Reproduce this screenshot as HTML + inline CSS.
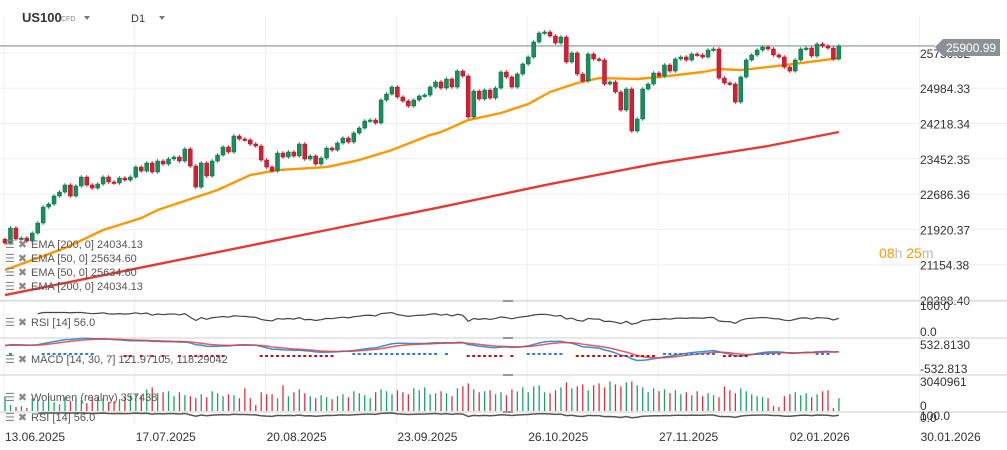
<!DOCTYPE html>
<html><head><meta charset="utf-8"><style>
body{margin:0;background:#fff;overflow:hidden}
svg{display:block;font-family:"Liberation Sans",sans-serif}
</style></head><body>
<svg id="c" width="1007" height="450" viewBox="0 0 1007 450">
<rect width="1007" height="450" fill="#fff"/>
<g id="grid"></g>
<g id="marks"></g>
<g id="ui">
<text x="22" y="22" font-size="13" font-weight="bold" fill="#333">US100</text>
<text x="61" y="21" font-size="7" fill="#888">CFD</text>
<path d="M84 16 l6 0 l-3 4 z" fill="#777"/>
<text x="131" y="22" font-size="11" fill="#333">D1</text>
<path d="M159 16 l6 0 l-3 4 z" fill="#777"/>
</g>
</svg>
<script>
const closes=[21625,21950,21712,21733,21668,21842,22059,22406,22471,22645,22732,22884,22645,22862,23057,22884,22818,22905,23057,22949,22927,23035,22992,23057,23274,23187,23361,23166,23404,23339,23448,23491,23404,23665,23296,22840,23361,23079,23404,23534,23708,23600,23947,23882,23860,23773,23730,23426,23274,23187,23578,23491,23600,23513,23773,23448,23513,23339,23469,23686,23643,23795,23903,23817,24012,24120,24272,24294,24229,24728,24858,25010,24793,24706,24598,24728,24815,24836,25010,25119,24988,25184,25010,25357,25249,24359,24923,24750,24945,24771,24988,25336,25227,25010,25292,25509,25661,25987,26182,26204,26117,25965,26095,25553,25748,25292,25140,25726,25618,25596,25075,25119,24902,24511,24967,24055,24316,24967,25075,25314,25249,25488,25357,25618,25661,25596,25726,25705,25661,25813,25835,25205,25097,25075,24684,25227,25596,25705,25813,25878,25835,25705,25661,25444,25357,25596,25835,25856,25683,25943,25900,25856,25618,25900];
const ema50Idx=[0,11,18,25,28,39,45,50,59,65,71,78,80,85,91,96,100,105,109,116,120,128,131,135,140,146,153];
const ema50Val=[21039,21516,21907,22167,22341,22775,23100,23209,23274,23426,23643,23968,24033,24294,24446,24641,24902,25097,25205,25184,25227,25336,25401,25379,25444,25531,25634.6];
const ema200Idx=[0,20,40,60,80,100,120,140,153];
const ema200Val=[20496,20974,21451,21929,22406,22905,23361,23730,24034];
const volumes=[1500,600,400,500,300,1300,1100,1000,1500,900,700,1400,1000,1300,1100,800,1300,1400,1300,900,1000,1200,1400,1600,1700,1600,2200,2400,1800,1900,2000,1500,1900,1600,1500,1300,1700,1400,2000,1800,1500,1700,1600,1300,2300,1300,600,1900,1700,1700,1300,2600,1500,1900,2200,1800,1500,1300,1600,1400,1200,1500,1700,1400,2000,1800,1600,1300,1900,2200,2000,1700,2100,1900,1700,2300,2100,2400,1700,1800,2000,1800,1500,2300,2500,2800,2200,1900,2000,2100,1700,1900,1600,2200,2000,2400,1900,2500,2600,1900,1800,2100,2400,2900,2300,2500,2700,2100,2600,2800,2400,3000,2700,2500,2900,3000,2600,2400,1900,2300,2000,2200,1800,2100,1700,1900,1600,2000,1500,1800,1600,1400,2500,2100,1800,2300,2000,1700,1500,1400,1300,500,400,1500,1700,1900,1600,1800,1400,1700,2000,2100,300,1300];
const priceTicks=["25750.32","24984.33","24218.34","23452.35","22686.36","21920.37","21154.38","20388.40"];
const priceTickVals=[25750.32,24984.33,24218.34,23452.35,22686.36,21920.37,21154.38,20388.40];
const dateLabels=["13.06.2025","17.07.2025","20.08.2025","23.09.2025","26.10.2025","27.11.2025","02.01.2026","30.01.2026"];
const dateIdx=[0,24,48,72,96,120,144,168];
const lastPrice=25900.99;

const NS="http://www.w3.org/2000/svg";
const xOf=i=>5+i*5.45;
const yP=p=>300-(p-20388.4)/766*35.3;
const grid=document.getElementById('grid'), marks=document.getElementById('marks');
function mk(tag,at,parent){const e=document.createElementNS(NS,tag);for(const k in at)e.setAttribute(k,at[k]);(parent||marks).appendChild(e);return e;}

priceTickVals.forEach((v,k)=>{const l=mk('line',{x1:0,x2:1007,y1:yP(v),y2:yP(v),stroke:'#efefef'},grid);


const t=mk('text',{x:920,y:yP(v)+5,'font-size':12,fill:'#333'},grid);t.textContent=priceTicks[k];

});
dateIdx.forEach((d,k)=>{const x=xOf(d)-1;const l=mk('line',{x1:x,x2:x,y1:15,y2:425,stroke:'#f0f0f0'},grid);


const t=mk('text',{x:x+1,y:441,'font-size':12,fill:'#333'},grid);t.textContent=dateLabels[k];

});
[301,338,375,412].forEach(y=>{const l=mk('line',{x1:0,x2:1007,y1:y,y2:y,stroke:'#cfcfcf'},grid);


const h=mk('rect',{x:503,y:y-1,width:10,height:2,fill:'#999'},grid);

});
[['100.0',310],['0.0',336],['532.8130',349],['-532.813',373],['3040961',386],['0',410],['100.0',420],['0.0',422]].forEach(a=>{const t=mk('text',{x:920,y:a[1],'font-size':12,fill:'#333'},grid);t.textContent=a[0];

});

const pl=mk('line',{x1:0,x2:935,y1:yP(lastPrice),y2:yP(lastPrice),stroke:'#8a9296','stroke-width':1.2});



closes.forEach((c,i)=>{const o=i?closes[i-1]:c;const v=volumes[i]||0;const h=v/3041*30;
const r=mk('rect',{x:xOf(i)-0.6,y:411-h,width:1.3,height:h,fill:c>=o?'#1aa26a':'#e0303f'});

});

function line(idx,val,col,name){const pts=idx.map((d,k)=>xOf(d)+','+yP(val[k])).join(' ');
const p=mk('polyline',{points:pts,fill:'none',stroke:col,'stroke-width':2.4,'stroke-linejoin':'round'});

}
line(ema200Idx,ema200Val,'#e53935','ema-200-line');
line(ema50Idx,ema50Val,'#ff9800','ema-50-line');

closes.forEach((c,i)=>{const o=i?closes[i-1]:c+80;const up=c>=o;const col=up?'#168f5c':'#d42034';
const hi=Math.max(o,c)+40,lo=Math.min(o,c)-40;const x=xOf(i);
const w=mk('line',{x1:x,x2:x,y1:yP(hi),y2:yP(lo),stroke:col,'stroke-width':1});


const top=yP(Math.max(o,c)),bh=Math.max(1.5,yP(Math.min(o,c))-top);
const b=mk('rect',{x:x-2,y:top,width:4,height:bh,fill:col,stroke:up?'#0d6b43':'#a8101f','stroke-width':0.5});

});

function rsi(n){const out=[];let g=0,l=0;for(let i=1;i<closes.length;i++){const d=closes[i]-closes[i-1];
if(i<=n){g+=Math.max(d,0)/n;l+=Math.max(-d,0)/n;}else{g=(g*(n-1)+Math.max(d,0))/n;l=(l*(n-1)+Math.max(-d,0))/n;}
out.push(l===0?100:100-100/(1+g/l));}return out;}
const rs=rsi(14);
const rsC=v=>Math.min(75,Math.max(35,v));
const rp=rs.map((v,k)=>k<5?null:xOf(k+1)+','+(305+(100-rsC(v))/100*30)).filter(Boolean).join(' ');
const rl=mk('polyline',{points:rp,fill:'none',stroke:'#444','stroke-width':1.2});


const rp2=rs.map((v,k)=>k<5?null:xOf(k+1)+','+(410+(100-rsC(v))/100*12)).filter(Boolean).join(' ');
const rl2=mk('polyline',{points:rp2,fill:'none',stroke:'#555','stroke-width':1.5});



function ema(arr,n,seed){const a=2/(n+1);const o=[];let e=seed;arr.forEach(v=>{e=e+a*(v-e);o.push(e);});return o;}
const e14=ema(closes,14,closes[0]-300),e30=ema(closes,30,closes[0]-600);
const macd=closes.map((c,i)=>e14[i]-e30[i]);
const sig=ema(macd,7,macd[0]);
const yM=v=>356-v*0.035;
const mp=macd.map((v,i)=>xOf(i)+','+yM(v)).join(' ');
const sp=sig.map((v,i)=>xOf(i)+','+yM(v)).join(' ');
const ml=mk('polyline',{points:mp,fill:'none',stroke:'#3b8fd9','stroke-width':1.5});


const sl=mk('polyline',{points:sp,fill:'none',stroke:'#e04040','stroke-width':1.5,opacity:0.85});


macd.forEach((v,i)=>{const h=v-sig[i];if(Math.abs(h)<15)return;
const r=mk('rect',{x:xOf(i)-1.5,y:h>0?353:355,width:3,height:2,fill:h>0?'#2a7fd0':'#c01020'});

});

const bg=mk('path',{d:'M935 47 L943 39 L1000 39 L1000 56 L943 56 Z',fill:'#8a9296'});


const bt=mk('text',{x:946,y:52,'font-size':12,fill:'#fff'});bt.textContent='25900.99';


const cd=mk('text',{x:879,y:258,'font-size':14});
cd.innerHTML='<tspan fill="#ff9800">08</tspan><tspan fill="#bbb">h </tspan><tspan fill="#ff9800">25</tspan><tspan fill="#bbb">m</tspan>';



[['EMA [200,  0]  24034.13',248,'legend-ema200'],['EMA [50,  0]  25634.60',262,'legend-ema50'],['EMA [50,  0]  25634.60',276,'legend-ema50-dup'],['EMA [200,  0]  24034.13',290,'legend-ema200-dup'],['RSI [14]  56.0',326,'legend-rsi'],['MACD [14,  30,  7] 121.97105,   118.29042',363,'legend-macd'],['Wolumen  (realny)  357438',401,'legend-volume'],['RSI [14]  56.0',421,'legend-rsi-2']].forEach(a=>{
const ic=mk('text',{x:5,y:a[1],'font-size':11,fill:'#888'});ic.textContent='☰ ✖';


const t=mk('text',{x:31,y:a[1],'font-size':11,fill:'#555'});t.textContent=a[0];

});
</script>
</body></html>
